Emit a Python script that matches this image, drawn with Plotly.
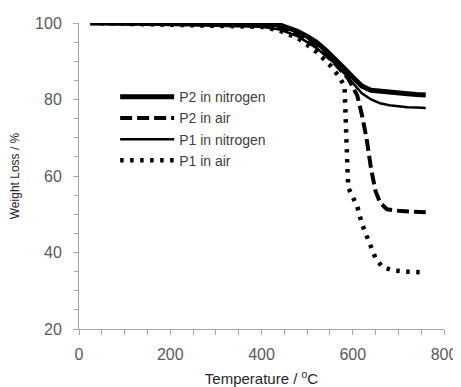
import plotly.graph_objects as go

# P2 in nitrogen
t_p2n = [25, 100, 200, 300, 400, 440, 460, 480, 500, 520, 540, 560, 580, 600, 620, 640, 660, 680, 700, 720, 740, 760]
w_p2n = [100, 100, 100, 100, 99.8, 99.5, 98.8, 97.8, 96.5, 95.0, 93.0, 90.8, 88.3, 85.8, 83.5, 82.4, 82.1, 81.9, 81.7, 81.5, 81.3, 81.2]

# P2 in air
t_p2a = [25, 100, 200, 300, 400, 440, 480, 520, 560, 590, 610, 620, 630, 640, 650, 660, 675, 700, 730, 760]
w_p2a = [100, 99.8, 99.7, 99.6, 99.4, 98.8, 97.0, 94.0, 89.5, 85.5, 81.0, 76.0, 70.0, 62.0, 56.0, 53.0, 51.3, 50.9, 50.7, 50.5]

# P1 in nitrogen
t_p1n = [25, 100, 200, 300, 400, 440, 480, 520, 560, 580, 600, 620, 640, 660, 680, 700, 720, 740, 760]
w_p1n = [100, 99.8, 99.6, 99.3, 99.0, 98.3, 96.5, 93.5, 89.5, 87.0, 84.3, 81.6, 80.0, 79.0, 78.5, 78.2, 78.0, 77.9, 77.8]

# P1 in air
t_p1a = [25, 100, 200, 300, 400, 440, 480, 520, 550, 570, 582, 586, 590, 600, 610, 620, 630, 640, 650, 665, 690, 720, 760]
w_p1a = [100, 99.8, 99.7, 99.5, 99.0, 98.0, 96.0, 92.5, 89.0, 86.0, 83.5, 70.0, 57.0, 54.5, 52.0, 47.5, 44.5, 41.5, 38.5, 36.2, 35.3, 35.0, 34.8]

x_ticks = [0, 200, 400, 600, 800]
y_ticks = [20, 40, 60, 80, 100]

fig = go.Figure()
fig.add_trace(go.Scatter(x=t_p2n, y=w_p2n, mode="lines", name="P2 in nitrogen",
                         line=dict(color="black", width=5)))
fig.add_trace(go.Scatter(x=t_p2a, y=w_p2a, mode="lines", name="P2 in air",
                         line=dict(color="black", width=4, dash="12px,5px")))
fig.add_trace(go.Scatter(x=t_p1n, y=w_p1n, mode="lines", name="P1 in nitrogen",
                         line=dict(color="black", width=2.5)))
fig.add_trace(go.Scatter(x=t_p1a, y=w_p1a, mode="lines", name="P1 in air",
                         line=dict(color="black", width=4.5, dash="3.5px,6.5px")))

axis_common = dict(showgrid=False, zeroline=False, showline=True, linecolor="#a6a6a6", linewidth=1,
                   ticks="outside", tickcolor="#a6a6a6", ticklen=5, automargin=False,
                   tickfont=dict(family="Liberation Sans, Arial", size=16, color="#595959"))

# page body has an 8px default margin, so the figure is sized to fit inside the window
fig.update_layout(
    width=453, height=379,
    margin=dict(l=71, r=17, t=15, b=58),
    paper_bgcolor="white", plot_bgcolor="white",
    font=dict(family="Liberation Sans, Arial", color="#262626"),
    showlegend=True,
    legend=dict(x=0.099, y=0.81, xanchor="left", yanchor="top",
                bgcolor="rgba(0,0,0,0)", font=dict(size=14, color="#404040"),
                itemwidth=54, tracegroupgap=0),
    xaxis=dict(range=[0, 800], tickvals=x_ticks, ticktext=[str(v) for v in x_ticks],
               minor=dict(dtick=50, ticks="outside", ticklen=5, tickcolor="#a6a6a6"),
               ticklabelstandoff=6,
               title=dict(text="Temperature / <sup>o</sup>C", font=dict(size=15, color="#262626"), standoff=12),
               **axis_common),
    yaxis=dict(range=[20, 100], tickvals=y_ticks, ticktext=[str(v) for v in y_ticks],
               minor=dict(dtick=5, ticks="outside", ticklen=4, tickcolor="#a6a6a6"),
               ticklabelstandoff=8,
               title=dict(text="Weight Loss / %", font=dict(size=12, color="#262626"), standoff=13),
               **axis_common),
)

fig.write_html("out.html")
